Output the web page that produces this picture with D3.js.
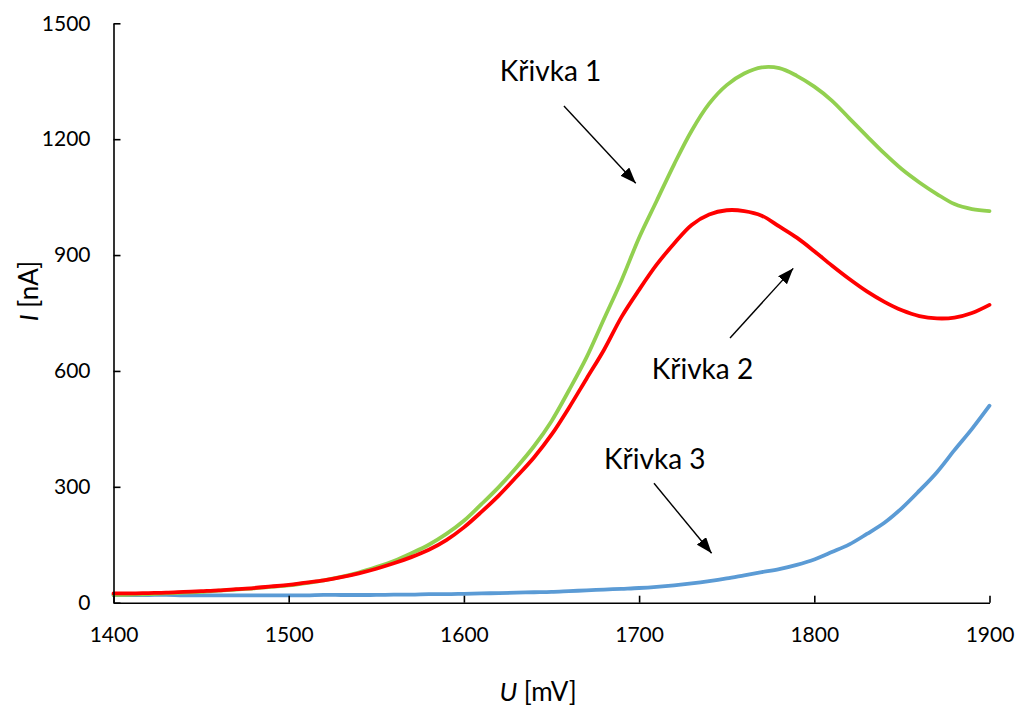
<!DOCTYPE html>
<html>
<head>
<meta charset="utf-8">
<script src="https://cdn.jsdelivr.net/npm/d3@7"></script>
<style>
  html, body { margin: 0; padding: 0; background: #fff; }
  svg { display: block; font-family: Lato, "Open Sans", sans-serif; }
</style>
</head>
<body>
<svg id="chart" width="1019" height="709"></svg>
<script>
// Voltage sweep U [mV]
const voltage = [1400,1410,1420,1430,1440,1450,1460,1470,1480,1490,
                 1500,1510,1520,1530,1540,1550,1560,1570,1580,1590,
                 1600,1610,1620,1630,1640,1650,1660,1670,1680,1690,
                 1700,1710,1720,1730,1740,1750,1760,1770,1780,1790,
                 1800,1810,1820,1830,1840,1850,1860,1870,1880,1890,1900];

// Current I [nA] for each curve
const curve1 = [20,21,22,24,26,28,31,34,37,41,
                45,51,58,67,78,92,108,128,150,178,
                212,255,300,350,405,470,550,635,735,835,
                945,1040,1135,1222,1292,1340,1370,1386,1384,1364,
                1336,1300,1254,1208,1163,1122,1088,1058,1032,1019,1014];
const curve2 = [24,24,25,26,28,30,32,35,38,42,
                46,52,58,66,76,88,102,118,137,162,
                195,235,278,326,376,435,505,580,655,740,
                810,875,930,978,1005,1016,1014,1002,974,945,
                910,873,838,806,779,757,742,736,738,750,771];
const curve3 = [20,20,20,20,19,19,19,19,19,19,
                19,19,20,20,20,20,21,21,22,22,
                23,24,25,26,27,28,30,32,34,36,
                38,41,45,50,56,63,71,79,87,98,
                112,131,151,178,207,245,290,338,395,450,510];

const xTicks = [1400,1500,1600,1700,1800,1900];
const yTicks = [0,300,600,900,1200,1500];

// Callout labels and their arrows, in data units
const labels = [
  {text: "Křivka 1", u: 1620.5, i: 1351, from: [1657.1, 1285.8], to: [1698.1, 1085.7]},
  {text: "Křivka 2", u: 1707.2, i: 579,  from: [1751.9, 685.2],  to: [1788.0, 865.6]},
  {text: "Křivka 3", u: 1680.0, i: 346,  from: [1708.5, 309.1],  to: [1741.4, 127.9]}
];

const svg = d3.select("#chart");
const x = d3.scaleLinear().domain([1400, 1900]).range([113.5, 989.5]);
const y = d3.scaleLinear().domain([0, 1500]).range([602.7, 23.3]);

const series = [
  {values: curve3, color: "#5B9BD5"},
  {values: curve1, color: "#92D050"},
  {values: curve2, color: "#FF0000"}
];

const line = d3.line()
  .x((d, i) => x(voltage[i]))
  .y(d => y(d))
  .curve(d3.curveCatmullRom.alpha(0.5));

svg.append("g").selectAll("path")
  .data(series)
  .join("path")
  .attr("d", s => line(s.values))
  .attr("fill", "none")
  .attr("stroke", s => s.color)
  .attr("stroke-width", 3.8)
  .attr("stroke-linejoin", "round")
  .attr("stroke-linecap", "round");

// Axes with inward ticks
const fmt = d3.format("d");
const yAxis = svg.append("g")
  .attr("transform", `translate(${x(1400)},0)`)
  .call(d3.axisLeft(y).tickValues(yTicks).tickFormat(fmt).tickSizeInner(-7).tickSizeOuter(0).tickPadding(23));
const xAxis = svg.append("g")
  .attr("transform", `translate(0,${y(0)})`)
  .call(d3.axisBottom(x).tickValues(xTicks).tickFormat(fmt).tickSizeInner(-7).tickSizeOuter(0).tickPadding(24));

[yAxis, xAxis].forEach(g => {
  g.selectAll("path, line").attr("stroke", "#000").attr("stroke-width", 1.6);
  g.selectAll("text").attr("fill", "#000").style("font-size", "21px").style("font-family", "Lato, sans-serif");
});

// Axis titles
svg.append("text")
  .attr("transform", "translate(38,291) rotate(-90)")
  .attr("text-anchor", "middle")
  .style("font-size", "26px")
  .html('<tspan font-style="italic">I</tspan> [nA]');

svg.append("text")
  .attr("x", 538)
  .attr("y", 701)
  .attr("text-anchor", "middle")
  .style("font-size", "26px")
  .html('<tspan font-style="italic">U</tspan> [mV]');

// Arrowhead
svg.append("defs").append("marker")
  .attr("id", "head")
  .attr("viewBox", "0 0 16 12")
  .attr("refX", 16).attr("refY", 6)
  .attr("markerWidth", 16).attr("markerHeight", 12)
  .attr("markerUnits", "userSpaceOnUse")
  .attr("orient", "auto")
  .append("path")
  .attr("d", "M0,0 L16,6 L0,12 Z")
  .attr("fill", "#000");

const callouts = svg.append("g");
callouts.selectAll("line")
  .data(labels)
  .join("line")
  .attr("x1", d => x(d.from[0])).attr("y1", d => y(d.from[1]))
  .attr("x2", d => x(d.to[0])).attr("y2", d => y(d.to[1]))
  .attr("stroke", "#000").attr("stroke-width", 1.4)
  .attr("marker-end", "url(#head)");

callouts.selectAll("text")
  .data(labels)
  .join("text")
  .attr("x", d => x(d.u)).attr("y", d => y(d.i))
  .style("font-size", "28px")
  .text(d => d.text);
</script>
</body>
</html>
